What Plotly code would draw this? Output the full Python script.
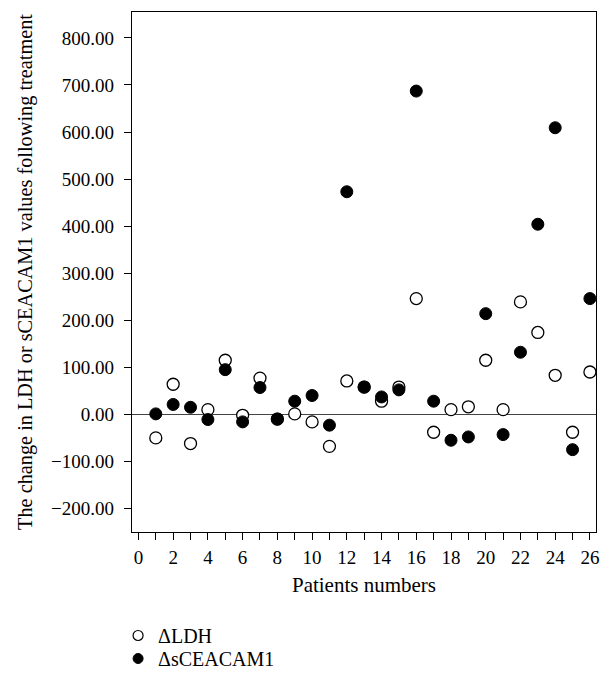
import plotly.graph_objects as go

patients = list(range(1, 27))
delta_ldh = [-50, 64, -62, 10, 115, -2, 77, -10, 1, -16, -68, 71, 58,
             28, 58, 246, -38, 10, 16, 115, 10, 239, 174, 83, -38, 90]
delta_sceacam1 = [1, 21, 15, -11, 95, -16, 57, -10, 28, 40, -23, 473, 58,
                  37, 52, 687, 28, -55, -48, 214, -43, 132, 404, 609, -75, 246]

x_tickvals = list(range(0, 27))
x_ticktext = [str(v) if v % 2 == 0 else "" for v in x_tickvals]
y_tickvals = [-200, -100, 0, 100, 200, 300, 400, 500, 600, 700, 800]
y_ticktext = [("\u2212" if v < 0 else "") + f"{abs(v):.2f}" for v in y_tickvals]

FONT = "Liberation Serif"

fig = go.Figure()
fig.add_trace(go.Scatter(
    x=patients, y=delta_ldh, mode="markers", name="\u0394LDH", showlegend=False,
    marker=dict(symbol="circle", size=12, color="white",
                line=dict(color="black", width=1.3)),
))
fig.add_trace(go.Scatter(
    x=patients, y=delta_sceacam1, mode="markers", name="\u0394sCEACAM1", showlegend=False,
    marker=dict(symbol="circle", size=12, color="black",
                line=dict(color="black", width=1)),
))
# legend entries (smaller symbols, as in the reference)
fig.add_trace(go.Scatter(
    x=[None], y=[None], mode="markers", name="\u0394LDH", legend="legend",
    marker=dict(symbol="circle", size=10, color="white",
                line=dict(color="black", width=1.2)),
))
fig.add_trace(go.Scatter(
    x=[None], y=[None], mode="markers", name="\u0394sCEACAM1", legend="legend2",
    marker=dict(symbol="circle", size=10, color="black",
                line=dict(color="black", width=1)),
))

legend_style = dict(x=-0.03, xanchor="left", yanchor="top",
                    font=dict(family=FONT, size=20, color="black"),
                    itemsizing="trace", bgcolor="rgba(0,0,0,0)")

# page body has an 8px margin; compensate so the plot lands where the reference has it
fig.update_layout(
    width=603, height=667,
    margin=dict(l=124, r=15, t=4, b=143, autoexpand=False),
    paper_bgcolor="white", plot_bgcolor="white",
    font=dict(family=FONT, size=19, color="black"),
    showlegend=True,
    legend=dict(y=-0.1615, **legend_style),
    legend2=dict(y=-0.2058, **legend_style),
    xaxis=dict(
        range=[-0.37, 26.35], tickmode="array", tickvals=x_tickvals,
        ticktext=x_ticktext, ticks="outside", ticklen=7, tickwidth=1,
        tickcolor="black", showline=True, linecolor="black", linewidth=1.3,
        mirror=True, showgrid=False, zeroline=False, automargin=False,
        ticklabelstandoff=1,
        title=dict(text="Patients numbers", standoff=10,
                   font=dict(family=FONT, size=21)),
        tickfont=dict(family=FONT, size=19),
    ),
    yaxis=dict(
        range=[-250, 855], tickmode="array", tickvals=y_tickvals,
        ticktext=y_ticktext, ticks="outside", ticklen=7, tickwidth=1,
        tickcolor="black", showline=True, linecolor="black", linewidth=1.3,
        mirror=True, showgrid=False, zeroline=True, zerolinecolor="#444444",
        zerolinewidth=1.3, automargin=False, ticklabelstandoff=6,
        title=dict(text="The change in LDH or sCEACAM1 values following treatment",
                   standoff=12, font=dict(family=FONT, size=20.3)),
        tickfont=dict(family=FONT, size=19),
    ),
)

fig.write_html("out.html")
